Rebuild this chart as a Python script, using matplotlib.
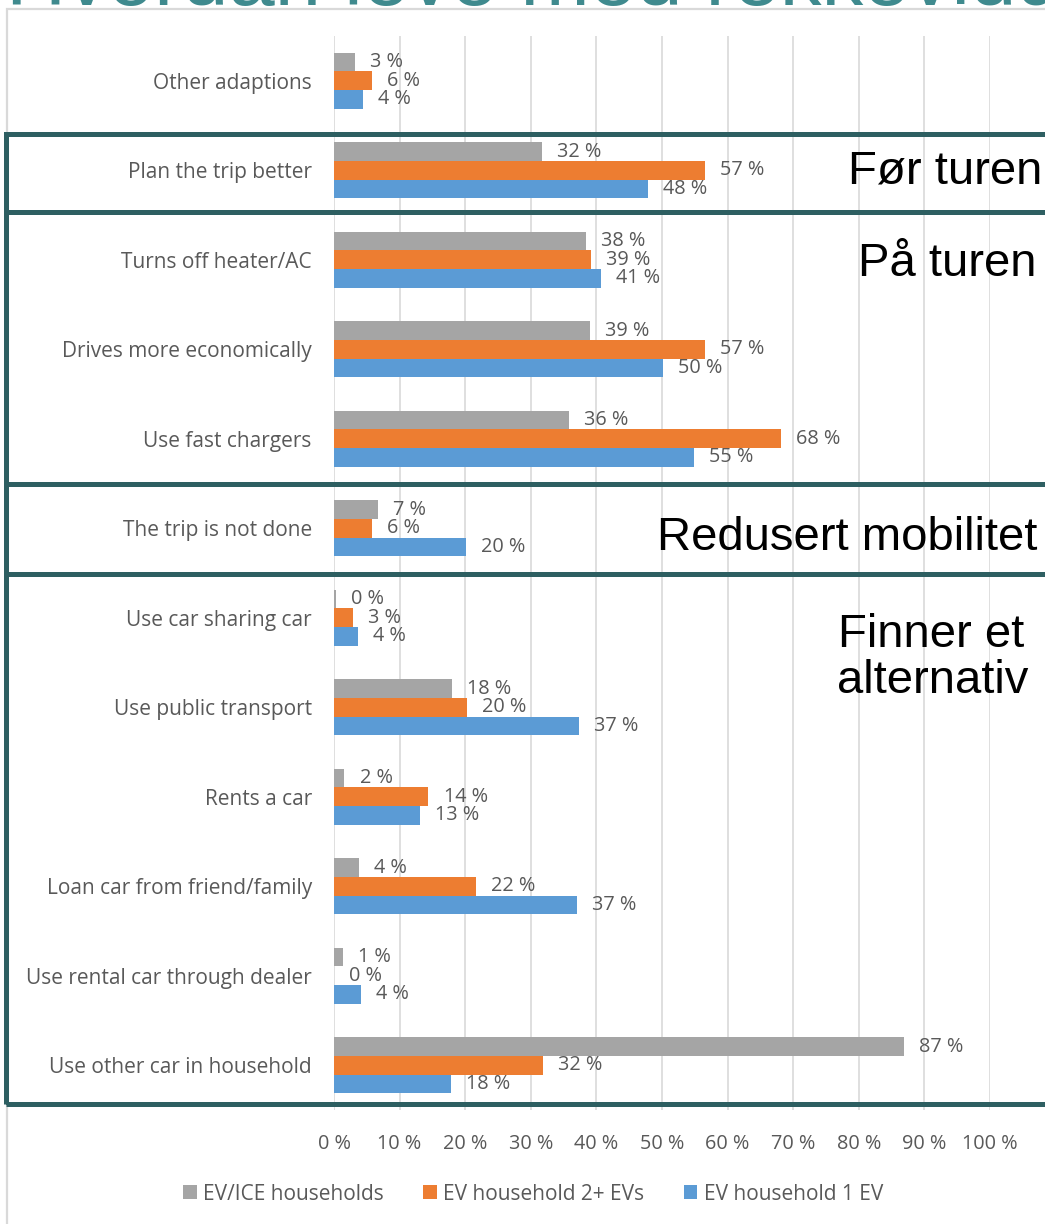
#!/usr/bin/env python3
"""
Range adaptation survey chart — horizontal grouped bars with section boxes.
Output: out.png
"""

import matplotlib
matplotlib.use('Agg')
import matplotlib.pyplot as plt
from matplotlib.patches import Patch, Rectangle
import numpy as np

# ---- Data ----
categories = [
    'Other adaptions',
    'Plan the trip better',
    'Turns off heater/AC',
    'Drives more economically',
    'Use fast chargers',
    'The trip is not done',
    'Use car sharing car',
    'Use public transport',
    'Rents a car',
    'Loan car from friend/family',
    'Use rental car through dealer',
    'Use other car in household',
]

ev_ice   = [3.2, 31.7, 38.4, 39.0, 35.8, 6.7, 0.3, 18.0, 1.6, 3.8, 1.4, 86.9]
ev_2plus = [5.8, 56.6, 39.2, 56.6, 68.1, 5.8, 2.9, 20.3, 14.4, 21.6, 0.0, 31.9]
ev_1     = [4.4, 47.9, 40.7, 50.2, 54.9, 20.1, 3.6, 37.4, 13.1, 37.0, 4.1, 17.8]

series_names = ['EV/ICE households', 'EV household 2+ EVs', 'EV household 1 EV']

x_ticks = [0, 10, 20, 30, 40, 50, 60, 70, 80, 90, 100]

# section labels: (text, right x px, baseline y px)
section_labels = [
    ('Før turen', 1042, 183),
    ('På turen', 1037, 276),
    ('Redusert mobilitet', 1037, 550),
]
# section box edges in pixels (top, bottom)
section_boxes = [(134, 212), (212, 484), (484, 574), (574, 1104)]

title_text = 'Hvordan leve med rekkevidde'

# ---- Style ----
W, H = 1045, 1224
C_GRAY   = '#A5A5A5'
C_ORANGE = '#ED7D31'
C_BLUE   = '#5B9BD5'
C_BOX    = '#2E5F62'
C_TEXT   = '#595959'
C_GRID   = '#D9D9D9'
FONT     = 'Open Sans'
FONT_BIG = 'Liberation Sans'


def fx(px):
    return px / W


def fy(py):
    return 1 - py / H


def main():
    fig = plt.figure(figsize=(W / 100, H / 100), dpi=100)
    fig.patch.set_facecolor('white')

    # plot area: x 334..990 px, y 36..1110 px
    ax = fig.add_axes([fx(334), fy(1110), fx(990) - fx(334), fy(36) - fy(1110)])

    n = len(categories)
    y = np.arange(n)
    h = 0.207
    colors = [C_GRAY, C_ORANGE, C_BLUE]
    for k, vals in enumerate([ev_ice, ev_2plus, ev_1]):
        pos = y + (k - 1) * h
        ax.barh(pos, vals, height=h, color=colors[k], edgecolor='none', zorder=3)
        for p, v in zip(pos, vals):
            ax.text(v + 2.3, p, f'{round(v)} %', ha='left', va='center',
                    fontsize=14.3, color=C_TEXT, family=FONT, zorder=4)

    ax.set_xlim(0, 100)
    ax.set_ylim(n - 0.5, -0.5)
    ax.set_xticks(x_ticks)
    ax.set_xticklabels([f'{t} %' for t in x_ticks], family=FONT,
                       fontsize=14.3, color=C_TEXT)
    ax.set_yticks(y)
    ax.set_yticklabels(categories, family=FONT, fontsize=15, color=C_TEXT)
    ax.tick_params(axis='x', length=0, pad=17)
    ax.tick_params(axis='y', length=0, pad=16)
    ax.grid(axis='x', color=C_GRID, lw=1.2, zorder=0)
    for s in ax.spines.values():
        s.set_visible(False)

    # light outer chart border
    fig.add_artist(Rectangle((fx(7), fy(1260)), fx(1070) - fx(7), fy(9) - fy(1260),
                             transform=fig.transFigure, fill=False,
                             edgecolor=C_GRID, lw=1.6, zorder=1))

    # section boxes
    for top, bot in section_boxes:
        fig.add_artist(Rectangle((fx(6), fy(bot)), fx(1060) - fx(6), fy(top) - fy(bot),
                                 transform=fig.transFigure, fill=False,
                                 edgecolor=C_BOX, lw=3.6, zorder=5))

    for txt, xr, yb in section_labels:
        fig.text(fx(xr), fy(yb), txt, ha='right', va='baseline',
                 fontsize=34, family=FONT_BIG, color='black')
    fig.text(fx(931), fy(647), 'Finner et', ha='center', va='baseline',
             fontsize=34, family=FONT_BIG, color='black')
    fig.text(fx(933), fy(693), 'alternativ', ha='center', va='baseline',
             fontsize=34, family=FONT_BIG, color='black')

    # title, mostly cut off at the top edge
    fig.text(fx(6), fy(5), title_text, ha='left', va='baseline',
             fontsize=60, family=FONT_BIG, color='#3F8A8E')

    handles = [Patch(facecolor=c, edgecolor='none') for c in colors]
    fig.legend(handles, series_names, loc='center', bbox_to_anchor=(fx(533), fy(1194)),
               ncol=3, frameon=False, handlelength=0.65, handleheight=0.65,
               handletextpad=0.3, columnspacing=1.9,
               prop={'family': FONT, 'size': 15}, labelcolor=C_TEXT)

    fig.savefig('out.png', dpi=100)
    plt.close(fig)


if __name__ == '__main__':
    main()
